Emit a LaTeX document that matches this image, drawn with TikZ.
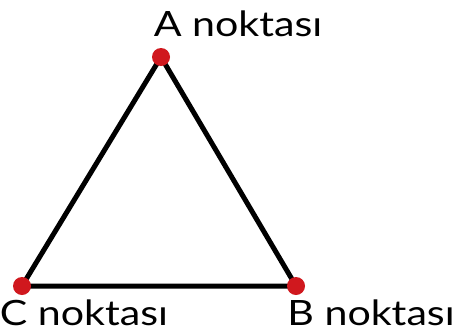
\documentclass[tikz,border=0pt]{standalone}
\usepackage{fontspec}
\setmainfont{Lato}[FakeStretch=1.18]
\definecolor{dotred}{HTML}{D0181E}
\begin{document}
\begin{tikzpicture}[x=1bp,y=-1bp,
  side/.style={line width=5bp, black, line join=round},
  pt/.style={circle, fill=dotred, minimum size=18bp, inner sep=0pt},
  lbl/.style={anchor=base, font=\fontsize{35}{40}\selectfont, inner sep=0pt}]
\useasboundingbox (0,0) rectangle (456,333);
\coordinate (A) at (161,57);
\coordinate (B) at (296,286);
\coordinate (C) at (22,286);
\draw[side] (A) -- (B) -- (C) -- cycle;
\node[pt] (a) at (A) {};
\node[pt] (b) at (B) {};
\node[pt] (c) at (C) {};
\node[lbl] (la) at (238,36) {A noktası};
\node[lbl] (lc) at (84,325) {C noktası};
\node[lbl] (lb) at (371,325) {B noktası};
\end{tikzpicture}
\end{document}
